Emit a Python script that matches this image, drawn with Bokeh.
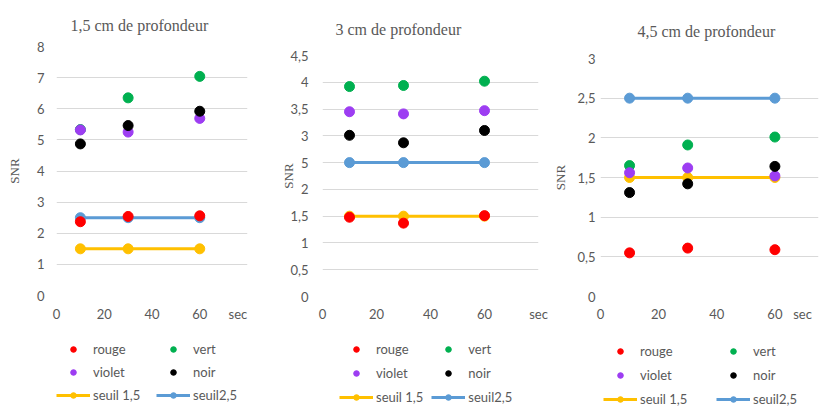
from bokeh.plotting import figure
from bokeh.layouts import row, column
from bokeh.models import FixedTicker, Legend, LegendItem, Title
from bokeh.embed import file_html
from bokeh.resources import INLINE

# ---------------- data ----------------
times = [10, 30, 60]
x_ticks = [0, 20, 40, 60]
x_tick_labels = ["0", "20", "40", "60"]
x_unit = "sec"

titles = ["1,5 cm de profondeur", "3 cm de profondeur", "4,5 cm de profondeur"]

rouge_1 = [2.37, 2.54, 2.56]
vert_1 = [5.33, 6.35, 7.04]
violet_1 = [5.32, 5.25, 5.69]
noir_1 = [4.87, 5.46, 5.92]

rouge_2 = [1.48, 1.37, 1.51]
vert_2 = [3.92, 3.94, 4.02]
violet_2 = [3.45, 3.41, 3.47]
noir_2 = [3.01, 2.87, 3.10]

rouge_3 = [0.55, 0.61, 0.59]
vert_3 = [1.65, 1.91, 2.01]
violet_3 = [1.56, 1.62, 1.52]
noir_3 = [1.31, 1.42, 1.64]

seuil_15 = [1.5, 1.5, 1.5]
seuil_25 = [2.5, 2.5, 2.5]

y_ticks_1 = [0, 1, 2, 3, 4, 5, 6, 7, 8]
y_labels_1 = ["0", "1", "2", "3", "4", "5", "6", "7", "8"]
y_ticks_2 = [0, 0.5, 1, 1.5, 2, 2.5, 3, 3.5, 4, 4.5]
y_labels_2 = ["0", "0,5", "1", "1,5", "2", "5", "3", "3,5", "4", "4,5"]
y_ticks_3 = [0, 0.5, 1, 1.5, 2, 2.5, 3]
y_labels_3 = ["0", "0,5", "1", "1,5", "2", "2,5", "3"]

series_names = ["rouge", "vert", "violet", "noir"]
seuil_names = ["seuil 1,5", "seuil2,5"]

# ---------------- style ----------------
COLORS = {"rouge": "#FF0000", "vert": "#00B050", "violet": "#9D3DF2", "noir": "#000000"}
SEUIL_COLORS = ["#FFC000", "#5B9BD5"]
GRAY = "#595959"
GRID = "#D9D9D9"
SERIF = "Liberation Serif"
SANS = "Lato"
CHART_H = 324
LEG_H = 84


def panel(title, series, y_ticks, y_labels, x_end, width, mb_left, mb_right,
          mb_top, frame_bottom, title_offset, title_standoff, ytick_standoff,
          ylabel_standoff, xtick_standoff, sec_x,
          legend_x, legend_y, legend_gap, legend_lw):
    p = figure(width=width, height=CHART_H, x_range=(0, x_end),
               y_range=(y_ticks[0], y_ticks[-1]),
               output_backend="svg", toolbar_location=None,
               min_border_left=mb_left, min_border_right=mb_right,
               min_border_top=mb_top, min_border_bottom=CHART_H - frame_bottom)
    p.outline_line_color = None
    p.border_fill_color = "white"

    p.add_layout(Title(text=title, text_font=SERIF, text_font_size="16px",
                       text_font_style="normal", text_color=GRAY, align="left",
                       offset=title_offset, standoff=title_standoff), "above")

    xt = x_ticks + [sec_x]
    xl = x_tick_labels + [x_unit]
    p.xaxis.ticker = FixedTicker(ticks=xt)
    p.xaxis.major_label_overrides = dict(zip(xt, xl))
    p.yaxis.ticker = FixedTicker(ticks=y_ticks)
    p.yaxis.major_label_overrides = dict(zip(y_ticks, y_labels))
    for ax in (p.xaxis[0], p.yaxis[0]):
        ax.axis_line_color = None
        ax.major_tick_line_color = None
        ax.minor_tick_line_color = None
        ax.major_tick_out = 0
        ax.major_tick_in = 0
        ax.minor_tick_out = 0
        ax.major_label_text_font = SANS
        ax.major_label_text_font_size = "13px"
        ax.major_label_text_color = GRAY
    p.xaxis.major_label_standoff = xtick_standoff
    p.yaxis.major_label_standoff = ytick_standoff
    p.yaxis.axis_label = "SNR"
    p.yaxis.axis_label_text_font = SERIF
    p.yaxis.axis_label_text_font_size = "13px"
    p.yaxis.axis_label_text_font_style = "normal"
    p.yaxis.axis_label_text_color = GRAY
    p.yaxis.axis_label_standoff = ylabel_standoff

    p.xgrid.grid_line_color = None
    p.ygrid.ticker = FixedTicker(ticks=y_ticks)
    p.ygrid.grid_line_color = GRID
    p.ygrid.grid_line_width = 1

    # thresholds beneath, then the measured series
    for name, vals, col in zip(seuil_names, [seuil_15, seuil_25], SEUIL_COLORS):
        p.line(times, vals, line_color=col, line_width=3)
        p.scatter(times, vals, size=10, fill_color=col, line_color=col)
    for name in series_names:
        p.scatter(times, series[name], size=10, fill_color=COLORS[name],
                  line_color=COLORS[name])

    # legend in a small figure below the chart (its data lies out of view)
    lf = figure(width=width, height=LEG_H, x_axis_type=None, y_axis_type=None,
                output_backend="svg", toolbar_location=None,
                min_border=0, x_range=(0, 1), y_range=(0, 1))
    lf.outline_line_color = None
    lf.grid.grid_line_color = None
    lf.border_fill_color = "white"
    rend = {}
    for name in series_names:
        rend[name] = [lf.scatter(times, series[name], size=10,
                                 fill_color=COLORS[name], line_color=COLORS[name])]
    for name, vals, col in zip(seuil_names, [seuil_15, seuil_25], SEUIL_COLORS):
        rend[name] = [lf.line(times, vals, line_color=col, line_width=3),
                      lf.scatter(times, vals, size=10, fill_color=col, line_color=col)]
    order = ["rouge", "vert", "violet", "noir", "seuil 1,5", "seuil2,5"]
    legend = Legend(items=[LegendItem(label=n, renderers=rend[n]) for n in order],
                    orientation="horizontal", ncols=2,
                    location=(legend_x, legend_y), margin=0, padding=0,
                    spacing=legend_gap, glyph_width=34, glyph_height=14,
                    label_height=14, label_width=legend_lw, label_standoff=3,
                    label_text_font=SANS, label_text_font_size="13px",
                    label_text_color=GRAY, border_line_color=None,
                    background_fill_alpha=0)
    lf.add_layout(legend, "center")
    return column(p, lf, spacing=0)


c1 = panel(titles[0], {"rouge": rouge_1, "vert": vert_1, "violet": violet_1, "noir": noir_1},
           y_ticks_1, y_labels_1, 80, 278, 56, 31, 46, 297, 14, 26, 12, 12, 10, 76,
           0, 5, 7, 56)
c2 = panel(titles[1], {"rouge": rouge_2, "vert": vert_2, "violet": violet_2, "noir": noir_2},
           y_ticks_2, y_labels_2, 80, 272, 40, 12, 55, 299, 13, 35, 14, -9, 9, 80,
           17, 3, 8, 39)
c3 = panel(titles[2], {"rouge": rouge_3, "vert": vert_3, "violet": violet_3, "noir": noir_3},
           y_ticks_3, y_labels_3, 75, 274, 47, 6, 58, 299, 37, 38, 5, 6, 9, 69.5,
           3, 1, 8, 68)

layout = row(c1, c2, c3, spacing=0)
open("out.html", "w").write(file_html(layout, INLINE))
